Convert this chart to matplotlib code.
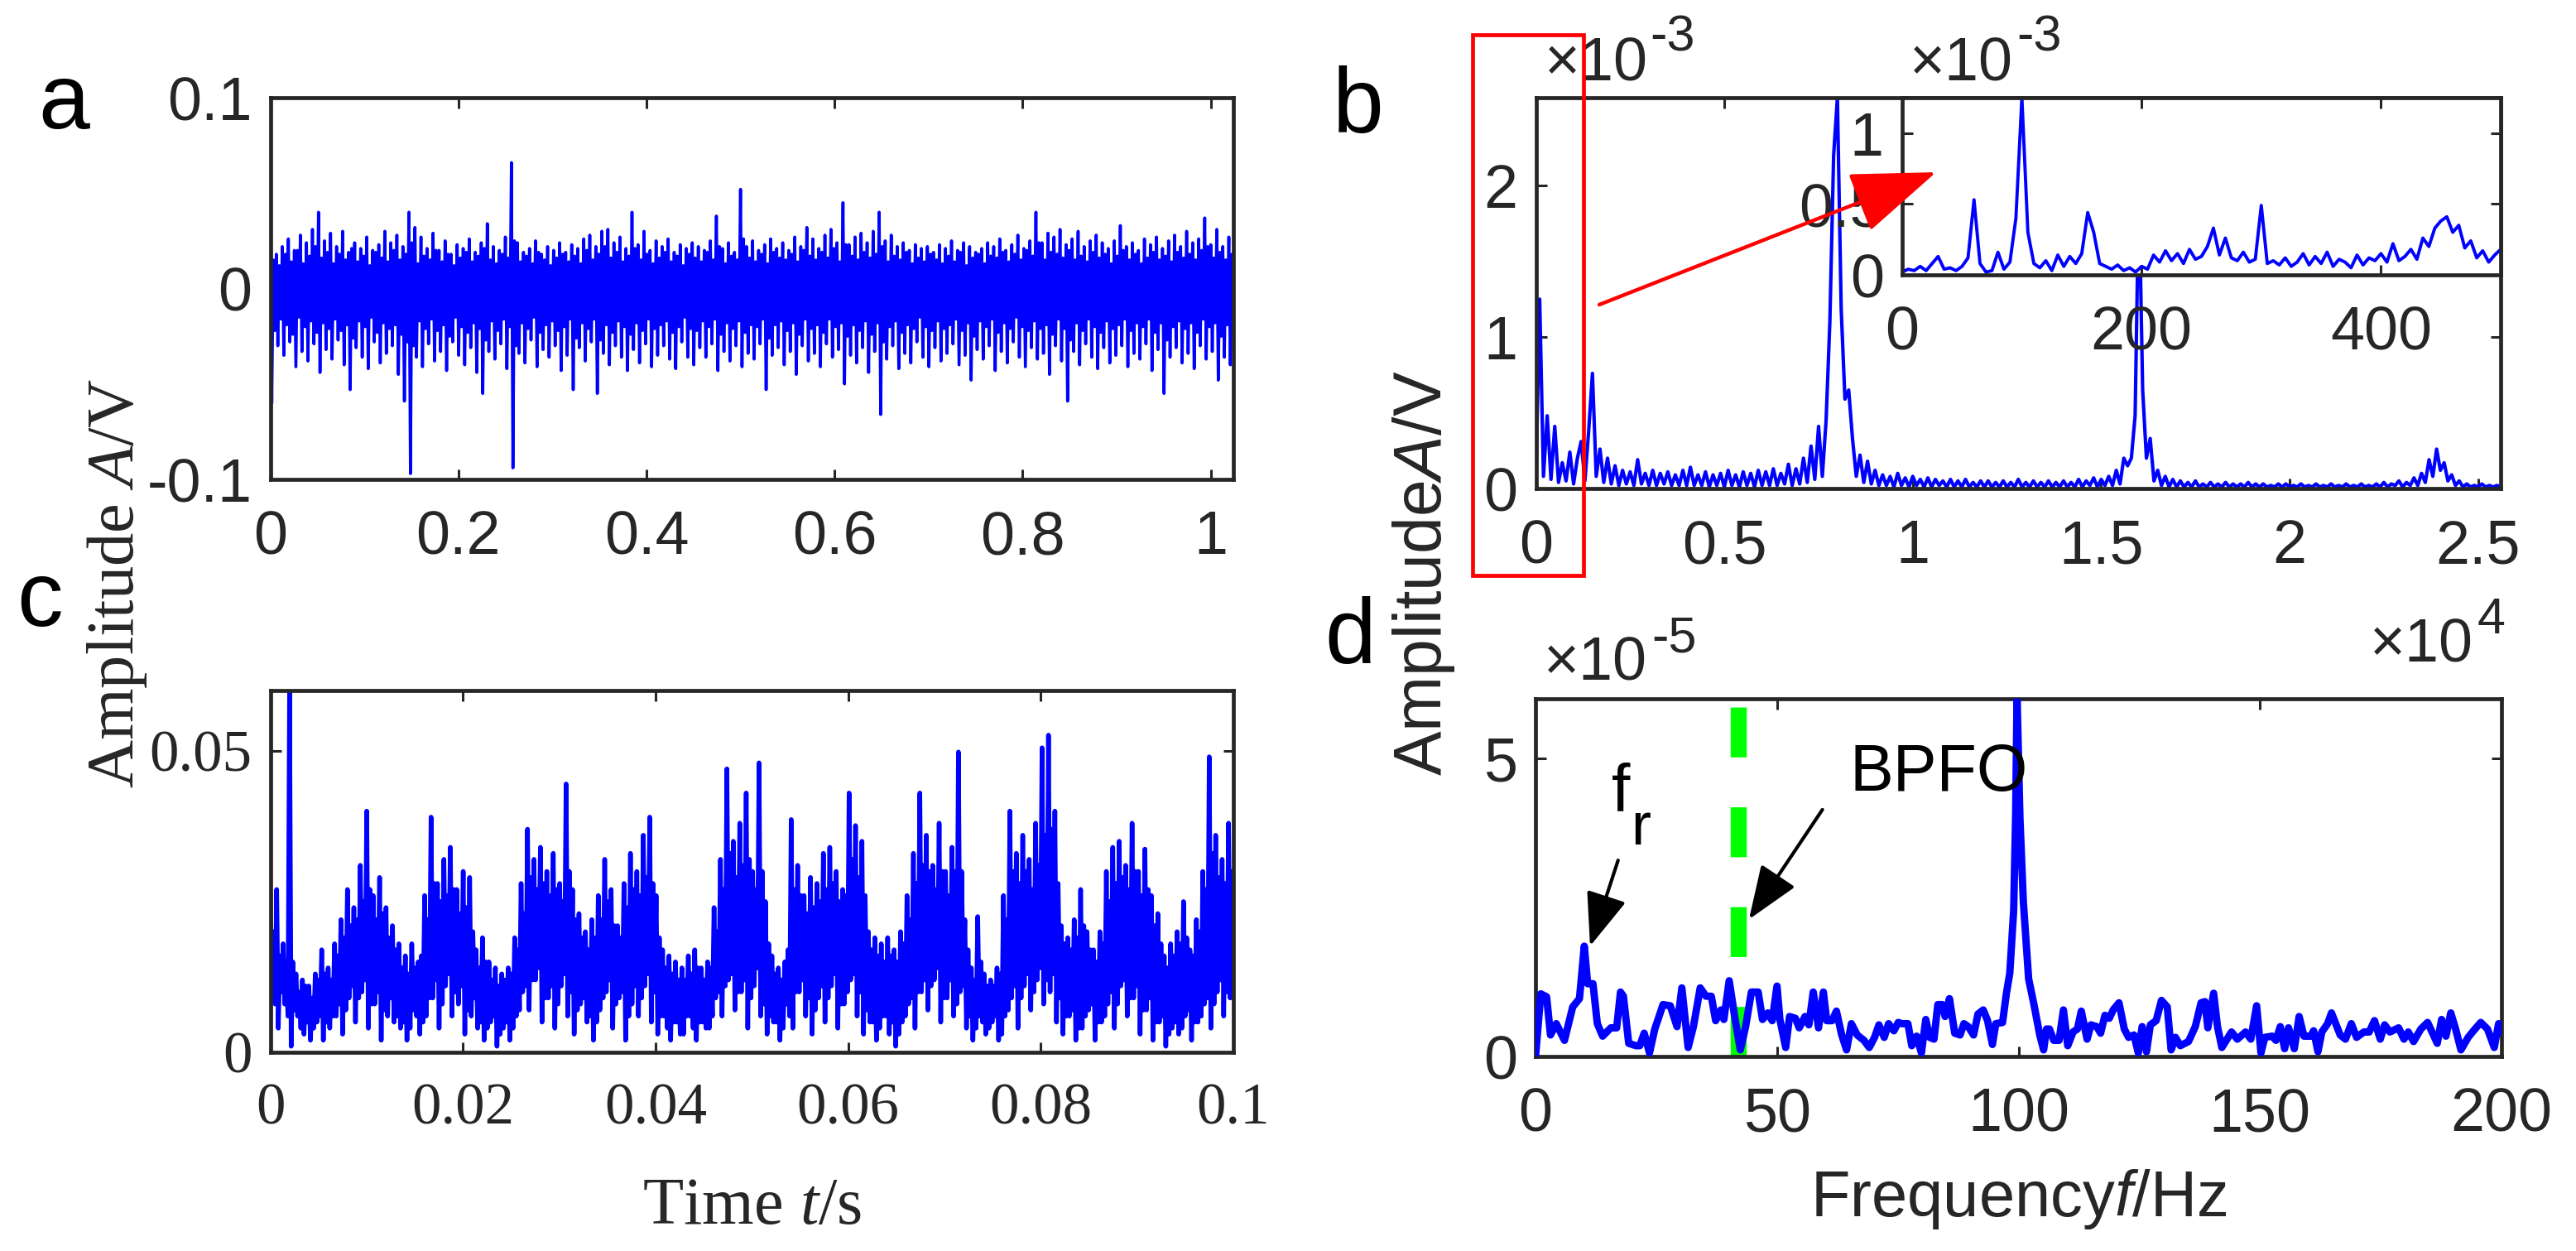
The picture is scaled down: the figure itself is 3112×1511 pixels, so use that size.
import matplotlib

matplotlib.use("Agg")
import matplotlib.pyplot as plt
import numpy as np
from matplotlib.patches import FancyArrowPatch, Rectangle

W, H, DPI = 3112, 1511, 200
INK, BLUE, GREEN, RED = "#262626", "#0000ff", "#00ff00", "#ff0000"
SANS, SERIF = "Liberation Sans", "Liberation Serif"

plt.rcParams.update({
    "font.family": [SANS, "DejaVu Sans"],
    "mathtext.fontset": "custom",
    "mathtext.rm": SERIF,
    "mathtext.it": SERIF + ":italic",
    "mathtext.sf": SANS,
    "mathtext.cal": SANS + ":italic",
    "axes.unicode_minus": False,
})

# ---- (a) raw vibration signal (V): main peaks / troughs and the smaller
# oscillations between them, read as up, dn, up2, dn2 per step
a_up = [
    0.044, 0.018, 0.022, 0.026, 0.020, 0.028, 0.024, 0.031, 0.040, 0.025,
    0.029, 0.022, 0.030, 0.019, 0.024, 0.021, 0.027, 0.020, 0.023, 0.030,
    0.024, 0.028, 0.022, 0.040, 0.032, 0.027, 0.021, 0.029, 0.020, 0.025,
    0.018, 0.023, 0.021, 0.026, 0.019, 0.024, 0.034, 0.022, 0.020, 0.027,
    0.066, 0.024, 0.019, 0.021, 0.025, 0.018, 0.022, 0.020, 0.024, 0.019,
    0.023, 0.021, 0.026, 0.028, 0.022, 0.030, 0.031, 0.024, 0.027, 0.021,
    0.040, 0.023, 0.030, 0.020, 0.025, 0.022, 0.026, 0.019, 0.023, 0.021,
    0.024, 0.022, 0.020, 0.025, 0.038, 0.021, 0.024, 0.019, 0.052, 0.022,
    0.025, 0.020, 0.023, 0.026, 0.021, 0.024, 0.020, 0.027, 0.022, 0.032,
    0.026, 0.021, 0.028, 0.031, 0.024, 0.045, 0.023, 0.027, 0.029, 0.024,
    0.030, 0.040, 0.025, 0.028, 0.022, 0.024, 0.020, 0.023, 0.021, 0.022,
    0.019, 0.023, 0.021, 0.025, 0.020, 0.024, 0.022, 0.019, 0.021, 0.024,
    0.022, 0.026, 0.020, 0.023, 0.028, 0.021, 0.025, 0.040, 0.024, 0.029,
    0.027, 0.031, 0.023, 0.026, 0.030, 0.022, 0.025, 0.028, 0.024, 0.021,
    0.025, 0.033, 0.022, 0.024, 0.020, 0.026, 0.023, 0.027, 0.021, 0.025,
    0.028, 0.022, 0.030, 0.024, 0.026, 0.037, 0.023, 0.031, 0.022, 0.027,
]
a_dn = [
    -0.060, -0.030, -0.035, -0.028, -0.041, -0.033, -0.038, -0.029, -0.044, -0.032,
    -0.037, -0.027, -0.040, -0.053, -0.031, -0.036, -0.042, -0.028, -0.039, -0.034,
    -0.030, -0.045, -0.059, -0.097, -0.036, -0.041, -0.029, -0.038, -0.033, -0.043,
    -0.028, -0.035, -0.040, -0.031, -0.044, -0.055, -0.033, -0.037, -0.029, -0.042,
    -0.094, -0.034, -0.039, -0.027, -0.041, -0.032, -0.036, -0.030, -0.043, -0.035,
    -0.053, -0.031, -0.038, -0.028, -0.055, -0.034, -0.040, -0.030, -0.036, -0.043,
    -0.032, -0.039, -0.029, -0.041, -0.035, -0.030, -0.037, -0.042, -0.028, -0.036,
    -0.040, -0.031, -0.036, -0.029, -0.043, -0.033, -0.038, -0.030, -0.041, -0.034,
    -0.037, -0.029, -0.053, -0.035, -0.031, -0.040, -0.033, -0.045, -0.030, -0.038,
    -0.034, -0.041, -0.029, -0.036, -0.032, -0.050, -0.035, -0.039, -0.031, -0.044,
    -0.033, -0.066, -0.037, -0.030, -0.042, -0.034, -0.039, -0.028, -0.036, -0.041,
    -0.031, -0.038, -0.034, -0.029, -0.040, -0.035, -0.048, -0.032, -0.037, -0.030,
    -0.043, -0.033, -0.039, -0.028, -0.036, -0.041, -0.031, -0.037, -0.034, -0.045,
    -0.030, -0.038, -0.059, -0.033, -0.040, -0.029, -0.036, -0.042, -0.031, -0.039,
    -0.035, -0.030, -0.041, -0.034, -0.037, -0.029, -0.043, -0.032, -0.055, -0.036,
    -0.031, -0.039, -0.034, -0.042, -0.030, -0.037, -0.033, -0.048, -0.036, -0.040,
]
a_up2 = [
    0.015, 0.012, 0.018, 0.014, 0.020, 0.013, 0.017, 0.022, 0.016, 0.019,
    0.013, 0.018, 0.015, 0.021, 0.014, 0.017, 0.012, 0.019, 0.016, 0.014,
    0.020, 0.015, 0.018, 0.024, 0.013, 0.017, 0.015, 0.020, 0.014, 0.018,
    0.012, 0.016, 0.019, 0.014, 0.017, 0.021, 0.015, 0.013, 0.018, 0.016,
    0.025, 0.014, 0.017, 0.013, 0.019, 0.015, 0.012, 0.016, 0.018, 0.014,
    0.017, 0.013, 0.020, 0.015, 0.018, 0.022, 0.016, 0.019, 0.014, 0.017,
    0.021, 0.015, 0.018, 0.013, 0.016, 0.019, 0.014, 0.017, 0.012, 0.018,
    0.016, 0.014, 0.019, 0.015, 0.022, 0.013, 0.017, 0.015, 0.026, 0.016,
    0.014, 0.018, 0.013, 0.019, 0.016, 0.015, 0.018, 0.014, 0.020, 0.017,
    0.015, 0.019, 0.016, 0.021, 0.014, 0.023, 0.017, 0.015, 0.019, 0.016,
    0.018, 0.022, 0.014, 0.017, 0.015, 0.019, 0.013, 0.016, 0.014, 0.018,
    0.015, 0.013, 0.017, 0.014, 0.019, 0.012, 0.016, 0.018, 0.013, 0.017,
    0.016, 0.019, 0.014, 0.018, 0.015, 0.020, 0.017, 0.024, 0.015, 0.019,
    0.018, 0.016, 0.020, 0.015, 0.017, 0.014, 0.019, 0.016, 0.018, 0.013,
    0.017, 0.020, 0.015, 0.018, 0.013, 0.016, 0.019, 0.015, 0.017, 0.014,
    0.019, 0.016, 0.018, 0.015, 0.020, 0.022, 0.016, 0.019, 0.015, 0.018,
]
a_dn2 = [
    -0.022, -0.016, -0.019, -0.024, -0.015, -0.020, -0.017, -0.023, -0.018, -0.021,
    -0.016, -0.022, -0.019, -0.026, -0.017, -0.020, -0.015, -0.023, -0.018, -0.021,
    -0.019, -0.024, -0.028, -0.030, -0.017, -0.021, -0.016, -0.022, -0.019, -0.025,
    -0.015, -0.020, -0.023, -0.018, -0.021, -0.027, -0.017, -0.022, -0.016, -0.020,
    -0.030, -0.018, -0.021, -0.015, -0.023, -0.019, -0.017, -0.022, -0.020, -0.016,
    -0.026, -0.018, -0.021, -0.016, -0.027, -0.019, -0.023, -0.017, -0.020, -0.024,
    -0.018, -0.022, -0.016, -0.021, -0.019, -0.017, -0.023, -0.020, -0.015, -0.021,
    -0.022, -0.017, -0.020, -0.016, -0.024, -0.018, -0.021, -0.017, -0.023, -0.019,
    -0.020, -0.016, -0.026, -0.019, -0.017, -0.022, -0.018, -0.024, -0.016, -0.021,
    -0.019, -0.023, -0.016, -0.020, -0.018, -0.025, -0.019, -0.022, -0.017, -0.024,
    -0.018, -0.028, -0.020, -0.017, -0.023, -0.019, -0.021, -0.015, -0.020, -0.022,
    -0.017, -0.021, -0.019, -0.016, -0.022, -0.018, -0.025, -0.017, -0.020, -0.016,
    -0.023, -0.018, -0.021, -0.015, -0.020, -0.022, -0.017, -0.021, -0.019, -0.024,
    -0.016, -0.021, -0.027, -0.018, -0.022, -0.016, -0.020, -0.023, -0.017, -0.021,
    -0.019, -0.016, -0.022, -0.018, -0.020, -0.016, -0.023, -0.018, -0.027, -0.020,
    -0.017, -0.021, -0.018, -0.023, -0.016, -0.020, -0.018, -0.025, -0.019, -0.021,
]
a_xticks = [0, 0.2, 0.4, 0.6, 0.8, 1.0]
a_xlabels = ["0", "0.2", "0.4", "0.6", "0.8", "1"]
a_yticks = [-0.1, 0, 0.1]
a_ylabels = ["-0.1", "0", "0.1"]

# ---- (b) amplitude spectrum, 100 Hz steps, in units of 1e-3 V
b_amp = [
    0.05, 1.25, 0.08, 0.48, 0.06, 0.41, 0.04, 0.17, 0.05, 0.24,
    0.03, 0.20, 0.31, 0.05, 0.38, 0.76, 0.08, 0.26, 0.04, 0.20,
    0.03, 0.15, 0.02, 0.12, 0.03, 0.11, 0.02, 0.19, 0.03, 0.10,
    0.02, 0.12, 0.02, 0.10, 0.03, 0.11, 0.02, 0.09, 0.02, 0.12,
    0.02, 0.14, 0.02, 0.09, 0.02, 0.11, 0.01, 0.09, 0.02, 0.10,
    0.01, 0.12, 0.02, 0.09, 0.01, 0.11, 0.02, 0.10, 0.01, 0.12,
    0.02, 0.11, 0.02, 0.13, 0.02, 0.10, 0.03, 0.16, 0.02, 0.13,
    0.03, 0.20, 0.04, 0.28, 0.06, 0.41, 0.08, 0.45, 1.10, 2.20,
    2.58, 1.19, 0.59, 0.65, 0.33, 0.08, 0.22, 0.04, 0.18, 0.03,
    0.12, 0.02, 0.09, 0.02, 0.08, 0.01, 0.10, 0.02, 0.07, 0.01,
    0.08, 0.02, 0.06, 0.01, 0.07, 0.01, 0.06, 0.02, 0.05, 0.01,
    0.06, 0.01, 0.05, 0.01, 0.06, 0.01, 0.04, 0.01, 0.05, 0.01,
    0.05, 0.01, 0.04, 0.01, 0.05, 0.01, 0.04, 0.01, 0.06, 0.01,
    0.04, 0.01, 0.05, 0.01, 0.04, 0.01, 0.05, 0.01, 0.04, 0.01,
    0.05, 0.01, 0.04, 0.01, 0.06, 0.01, 0.05, 0.02, 0.07, 0.01,
    0.06, 0.02, 0.08, 0.02, 0.12, 0.03, 0.20, 0.15, 0.20, 0.48,
    2.00, 0.65, 0.20, 0.33, 0.05, 0.12, 0.02, 0.08, 0.01, 0.06,
    0.01, 0.05, 0.01, 0.04, 0.01, 0.05, 0.01, 0.03, 0.01, 0.04,
    0.01, 0.03, 0.01, 0.04, 0.01, 0.03, 0.01, 0.03, 0.01, 0.04,
    0.01, 0.03, 0.01, 0.03, 0.01, 0.02, 0.01, 0.03, 0.01, 0.03,
    0.01, 0.02, 0.01, 0.03, 0.01, 0.02, 0.01, 0.03, 0.01, 0.02,
    0.01, 0.03, 0.01, 0.02, 0.01, 0.03, 0.01, 0.02, 0.01, 0.03,
    0.01, 0.02, 0.01, 0.03, 0.01, 0.04, 0.01, 0.03, 0.02, 0.05,
    0.01, 0.04, 0.02, 0.07, 0.02, 0.10, 0.04, 0.19, 0.08, 0.26,
    0.12, 0.17, 0.05, 0.09, 0.02, 0.05, 0.01, 0.03, 0.01, 0.02,
    0.01, 0.03, 0.01, 0.02, 0.01, 0.02, 0.01,
]
b_xticks = [0, 5000, 10000, 15000, 20000, 25000]
b_xlabels = ["0", "0.5", "1", "1.5", "2", "2.5"]
b_yticks = [0, 1, 2]
b_ylabels = ["0", "1", "2"]

# inset: 0-500 Hz, 5 Hz steps, units of 1e-3 V
in_amp = [
    0.02, 0.04, 0.03, 0.06, 0.03, 0.08, 0.13, 0.04, 0.05, 0.03,
    0.06, 0.12, 0.53, 0.08, 0.02, 0.03, 0.16, 0.04, 0.09, 0.40,
    1.25, 0.30, 0.08, 0.05, 0.10, 0.03, 0.14, 0.06, 0.13, 0.08,
    0.15, 0.44, 0.30, 0.08, 0.06, 0.04, 0.07, 0.03, 0.05, 0.02,
    0.06, 0.04, 0.14, 0.09, 0.17, 0.10, 0.15, 0.08, 0.18, 0.11,
    0.13, 0.20, 0.33, 0.14, 0.26, 0.12, 0.10, 0.16, 0.09, 0.11,
    0.49, 0.08, 0.10, 0.07, 0.12, 0.06, 0.09, 0.15, 0.07, 0.13,
    0.08, 0.16, 0.06, 0.11, 0.09, 0.05, 0.14, 0.07, 0.12, 0.10,
    0.15, 0.09, 0.22, 0.10, 0.13, 0.18, 0.11, 0.26, 0.20, 0.33,
    0.38, 0.41, 0.30, 0.35, 0.19, 0.24, 0.12, 0.17, 0.09, 0.14,
    0.18,
]
in_xticks = [0, 200, 400]
in_xlabels = ["0", "200", "400"]
in_yticks = [0, 0.5, 1]
in_ylabels = ["0", "0.5", "1"]

# ---- (c) envelope signal (V): up, dn, up2, dn2 per step
c_up = [
    0.026, 0.027, 0.018, 0.060, 0.013, 0.012, 0.011, 0.013, 0.017, 0.014,
    0.018, 0.022, 0.027, 0.024, 0.031, 0.040, 0.026, 0.029, 0.024, 0.021,
    0.018, 0.016, 0.018, 0.015, 0.026, 0.039, 0.028, 0.032, 0.034, 0.027,
    0.030, 0.029, 0.017, 0.019, 0.015, 0.014, 0.013, 0.014, 0.019, 0.028,
    0.037, 0.032, 0.034, 0.030, 0.033, 0.028, 0.0445, 0.027, 0.023, 0.020,
    0.022, 0.026, 0.032, 0.027, 0.021, 0.028, 0.033, 0.030, 0.036, 0.039,
    0.026, 0.017, 0.016, 0.015, 0.014, 0.016, 0.017, 0.014, 0.015, 0.024,
    0.032, 0.047, 0.035, 0.038, 0.043, 0.030, 0.048, 0.025, 0.016, 0.014,
    0.015, 0.0386, 0.031, 0.026, 0.029, 0.028, 0.033, 0.034, 0.030, 0.027,
    0.043, 0.0376, 0.035, 0.020, 0.019, 0.018, 0.019, 0.017, 0.020, 0.026,
    0.033, 0.043, 0.036, 0.031, 0.038, 0.030, 0.034, 0.0498, 0.022, 0.014,
    0.0225, 0.013, 0.012, 0.014, 0.026, 0.040, 0.033, 0.036, 0.032, 0.038,
    0.0505, 0.0526, 0.040, 0.021, 0.019, 0.022, 0.027, 0.020, 0.017, 0.020,
    0.030, 0.034, 0.035, 0.031, 0.038, 0.030, 0.0337, 0.026, 0.023, 0.016,
    0.018, 0.020, 0.025, 0.017, 0.022, 0.030, 0.049, 0.036, 0.032, 0.038,
]
c_dn = [
    0.012, 0.004, 0.008, 0.001, 0.006, 0.003, 0.002, 0.005, 0.002, 0.004,
    0.006, 0.003, 0.009, 0.005, 0.010, 0.004, 0.008, 0.002, 0.006, 0.005,
    0.004, 0.002, 0.007, 0.003, 0.006, 0.009, 0.004, 0.011, 0.006, 0.008,
    0.003, 0.006, 0.004, 0.002, 0.005, 0.001, 0.004, 0.002, 0.006, 0.010,
    0.007, 0.012, 0.005, 0.009, 0.004, 0.011, 0.006, 0.003, 0.008, 0.005,
    0.002, 0.007, 0.010, 0.004, 0.009, 0.002, 0.008, 0.006, 0.011, 0.005,
    0.003, 0.006, 0.002, 0.005, 0.003, 0.006, 0.002, 0.005, 0.004, 0.009,
    0.006, 0.012, 0.007, 0.010, 0.004, 0.011, 0.006, 0.003, 0.005, 0.002,
    0.008, 0.004, 0.010, 0.006, 0.003, 0.009, 0.005, 0.011, 0.004, 0.008,
    0.012, 0.006, 0.003, 0.005, 0.002, 0.006, 0.003, 0.001, 0.005, 0.008,
    0.004, 0.010, 0.007, 0.012, 0.005, 0.009, 0.006, 0.010, 0.004, 0.002,
    0.006, 0.003, 0.005, 0.002, 0.006, 0.009, 0.004, 0.011, 0.007, 0.012,
    0.008, 0.010, 0.005, 0.003, 0.006, 0.002, 0.004, 0.007, 0.002, 0.005,
    0.008, 0.004, 0.011, 0.006, 0.009, 0.003, 0.007, 0.002, 0.005, 0.001,
    0.004, 0.003, 0.006, 0.002, 0.005, 0.008, 0.004, 0.010, 0.006, 0.009,
]
c_up2 = [
    0.020, 0.016, 0.013, 0.015, 0.010, 0.011, 0.009, 0.012, 0.013, 0.012,
    0.016, 0.019, 0.021, 0.022, 0.025, 0.027, 0.022, 0.023, 0.019, 0.017,
    0.014, 0.013, 0.014, 0.016, 0.022, 0.028, 0.025, 0.026, 0.027, 0.023,
    0.024, 0.020, 0.014, 0.015, 0.012, 0.011, 0.012, 0.013, 0.017, 0.023,
    0.029, 0.027, 0.028, 0.026, 0.027, 0.025, 0.030, 0.022, 0.019, 0.017,
    0.019, 0.022, 0.025, 0.021, 0.019, 0.024, 0.027, 0.026, 0.029, 0.028,
    0.019, 0.014, 0.013, 0.012, 0.012, 0.013, 0.014, 0.012, 0.014, 0.020,
    0.027, 0.033, 0.029, 0.031, 0.032, 0.027, 0.030, 0.018, 0.013, 0.012,
    0.017, 0.027, 0.026, 0.023, 0.024, 0.025, 0.027, 0.028, 0.025, 0.026,
    0.032, 0.029, 0.026, 0.017, 0.016, 0.015, 0.016, 0.015, 0.018, 0.022,
    0.028, 0.031, 0.030, 0.027, 0.030, 0.026, 0.030, 0.030, 0.017, 0.012,
    0.015, 0.011, 0.011, 0.013, 0.022, 0.030, 0.028, 0.030, 0.027, 0.031,
    0.036, 0.037, 0.028, 0.018, 0.017, 0.019, 0.021, 0.017, 0.015, 0.018,
    0.025, 0.028, 0.029, 0.027, 0.030, 0.026, 0.027, 0.021, 0.018, 0.014,
    0.016, 0.018, 0.019, 0.016, 0.020, 0.027, 0.033, 0.029, 0.028, 0.030,
]
c_dn2 = [
    0.008, 0.010, 0.006, 0.007, 0.004, 0.005, 0.004, 0.006, 0.005, 0.006,
    0.008, 0.007, 0.011, 0.009, 0.012, 0.008, 0.010, 0.007, 0.009, 0.006,
    0.005, 0.004, 0.006, 0.005, 0.009, 0.012, 0.008, 0.013, 0.010, 0.011,
    0.007, 0.009, 0.005, 0.004, 0.006, 0.003, 0.005, 0.004, 0.007, 0.011,
    0.012, 0.014, 0.009, 0.011, 0.008, 0.013, 0.010, 0.007, 0.009, 0.006,
    0.005, 0.009, 0.012, 0.008, 0.010, 0.006, 0.011, 0.009, 0.013, 0.010,
    0.006, 0.004, 0.005, 0.003, 0.006, 0.004, 0.005, 0.004, 0.006, 0.010,
    0.011, 0.013, 0.010, 0.012, 0.009, 0.014, 0.008, 0.006, 0.005, 0.004,
    0.006, 0.010, 0.012, 0.009, 0.007, 0.011, 0.009, 0.013, 0.008, 0.010,
    0.013, 0.010, 0.007, 0.005, 0.004, 0.006, 0.005, 0.003, 0.006, 0.009,
    0.010, 0.012, 0.011, 0.014, 0.009, 0.012, 0.008, 0.011, 0.006, 0.004,
    0.005, 0.004, 0.006, 0.003, 0.007, 0.011, 0.009, 0.013, 0.010, 0.014,
    0.012, 0.013, 0.009, 0.006, 0.007, 0.004, 0.006, 0.008, 0.005, 0.006,
    0.010, 0.008, 0.012, 0.009, 0.011, 0.007, 0.009, 0.005, 0.006, 0.003,
    0.005, 0.004, 0.007, 0.005, 0.006, 0.009, 0.008, 0.012, 0.010, 0.011,
]
c_xticks = [0, 0.02, 0.04, 0.06, 0.08, 0.1]
c_xlabels = ["0", "0.02", "0.04", "0.06", "0.08", "0.1"]
c_yticks = [0, 0.05]
c_ylabels = ["0", "0.05"]

# ---- (d) envelope spectrum 0-200 Hz, units of 1e-5 V
d_freq = [
    0.0, 1.1, 2.3, 3.1, 4.3, 6.0, 7.7, 9.1, 10.1, 10.8,
    11.9, 12.8, 13.9, 15.6, 16.8, 17.6, 18.2, 19.3, 20.8, 21.6,
    22.5, 23.6, 24.7, 26.4, 27.9, 29.3, 30.3, 31.6, 32.7, 34.1,
    35.3, 36.4, 37.3, 38.4, 39.0, 40.1, 41.2, 42.4, 43.5, 44.7,
    46.1, 47.0, 48.1, 49.0, 50.0, 50.6, 51.8, 52.6, 53.8, 54.6,
    55.8, 56.6, 57.5, 58.6, 59.6, 60.3, 61.4, 62.3, 63.4, 64.4,
    65.4, 66.6, 68.0, 69.1, 70.2, 71.1, 72.2, 73.1, 74.2, 75.1,
    75.9, 77.1, 77.9, 78.9, 79.9, 80.8, 81.6, 82.5, 83.3, 84.2,
    84.8, 85.7, 86.8, 87.9, 88.7, 89.6, 90.7, 91.6, 92.7, 93.6,
    94.6, 95.3, 96.7, 97.5, 98.2, 99.0, 99.4, 99.7, 100.3, 101.0,
    102.1, 103.2, 104.4, 105.2, 105.8, 106.4, 107.3, 108.4, 109.3, 110.2,
    111.3, 112.2, 113.0, 114.2, 115.0, 116.2, 117.0, 117.9, 118.8, 119.6,
    120.8, 121.9, 122.8, 123.9, 124.8, 125.6, 126.5, 127.3, 128.5, 129.6,
    130.8, 131.6, 132.5, 133.5, 135.2, 136.6, 137.8, 138.6, 139.2, 140.4,
    141.2, 142.1, 144.1, 145.3, 147.0, 148.1, 149.3, 150.2, 151.0, 152.5,
    153.3, 154.2, 155.1, 155.9, 157.1, 158.1, 159.1, 160.5, 161.1, 162.0,
    162.8, 164.0, 164.8, 166.6, 167.7, 168.9, 170.0, 171.5, 172.6, 173.7,
    174.9, 175.8, 176.9, 178.7, 179.8, 180.7, 181.8, 183.3, 184.7, 186.7,
    187.6, 188.5, 189.5, 190.5, 191.6, 193.1, 194.2, 195.7, 197.1, 198.5,
    199.4, 200.0,
]
d_amp = [
    0.00, 1.05, 1.00, 0.36, 0.55, 0.27, 0.83, 0.97, 1.85, 1.22,
    1.22, 0.55, 0.34, 0.48, 0.48, 1.08, 1.01, 0.22, 0.18, 0.18,
    0.39, 0.06, 0.46, 0.87, 0.85, 0.50, 1.15, 0.15, 0.50, 1.15,
    1.01, 1.01, 0.60, 0.78, 0.62, 1.27, 0.69, 0.11, 0.50, 1.08,
    1.08, 0.62, 0.73, 0.60, 1.18, 0.62, 0.15, 0.67, 0.64, 0.48,
    0.67, 0.53, 1.08, 0.48, 1.08, 0.60, 0.60, 0.76, 0.36, 0.11,
    0.55, 0.36, 0.27, 0.15, 0.32, 0.53, 0.32, 0.55, 0.43, 0.57,
    0.55, 0.55, 0.18, 0.34, 0.06, 0.62, 0.32, 0.29, 0.87, 0.87,
    0.67, 0.97, 0.39, 0.36, 0.55, 0.50, 0.36, 0.71, 0.78, 0.60,
    0.20, 0.55, 0.57, 1.06, 1.40, 2.45, 4.00, 6.05, 4.00, 2.60,
    1.30, 0.87, 0.36, 0.11, 0.46, 0.46, 0.27, 0.27, 0.78, 0.18,
    0.41, 0.46, 0.76, 0.29, 0.53, 0.50, 0.39, 0.69, 0.64, 0.78,
    0.90, 0.46, 0.32, 0.36, 0.06, 0.50, 0.08, 0.53, 0.60, 0.94,
    0.83, 0.11, 0.32, 0.18, 0.25, 0.50, 0.90, 0.92, 0.48, 1.06,
    0.50, 0.15, 0.41, 0.29, 0.41, 0.29, 0.85, 0.06, 0.32, 0.34,
    0.27, 0.50, 0.13, 0.48, 0.13, 0.67, 0.34, 0.34, 0.43, 0.08,
    0.41, 0.55, 0.73, 0.36, 0.29, 0.55, 0.32, 0.41, 0.41, 0.60,
    0.29, 0.53, 0.41, 0.48, 0.29, 0.41, 0.25, 0.46, 0.57, 0.22,
    0.62, 0.34, 0.73, 0.46, 0.11, 0.32, 0.43, 0.57, 0.46, 0.15,
    0.55, 0.43,
]
BPFO_HZ = 42.0
d_xticks = [0, 50, 100, 150, 200]
d_xlabels = ["0", "50", "100", "150", "200"]
d_yticks = [0, 5]
d_ylabels = ["0", "5"]


def px_rect(left, top, right, bottom):
    """Axes rect in figure fractions from pixel edges (origin top-left)."""
    return [left / W, 1 - bottom / H, (right - left) / W, (bottom - top) / H]


def fxy(x, y):
    return x / W, 1 - y / H


def style(ax, family, xt, xl, yt, yl, size=26.5):
    ax.set_xticks(xt, xl, fontfamily=family)
    ax.set_yticks(yt, yl, fontfamily=family)
    ax.tick_params(which="both", direction="in", top=True, right=True,
                   length=4.5, width=1.1, colors=INK, labelsize=size)
    ax.tick_params(axis="x", pad=13)
    ax.tick_params(axis="y", pad=8)
    for sp in ax.spines.values():
        sp.set_linewidth(1.7)
        sp.set_color(INK)


def exponent(x, y, sup_x, sup_y, power):
    fig.text(*fxy(x, y), "×10", fontsize=26.5, color=INK, va="baseline")
    fig.text(*fxy(sup_x, sup_y), power, fontsize=22, color=INK, va="baseline")


fig = plt.figure(figsize=(W / DPI, H / DPI), dpi=DPI, facecolor="white")

# ---- a
ax_a = fig.add_axes(px_rect(326.5, 118, 1490, 579))
a_trace = np.column_stack([a_up, a_dn, a_up2, a_dn2]).ravel()
a_t = np.linspace(0, 1.024, a_trace.size)
ax_a.plot(a_t, a_trace, color=BLUE, lw=1.3)
ax_a.set_xlim(0, 1.024)
ax_a.set_ylim(-0.1, 0.1)
style(ax_a, SANS, a_xticks, a_xlabels, a_yticks, a_ylabels)
ax_a.set_ylabel("Amplitude $A$/V", fontfamily=SERIF, fontsize=29, color=INK)
ax_a.yaxis.set_label_coords((142 - 326.5) / 1163.5, (579 - 704) / 461)
ax_a.yaxis.label.set_va("center")

# ---- c
ax_c = fig.add_axes(px_rect(326.5, 834, 1490, 1271))
c_trace = np.column_stack([c_up, c_dn, c_up2, c_dn2]).ravel()
c_t = np.linspace(0, 0.1, c_trace.size)
ax_c.plot(c_t, c_trace, color=BLUE, lw=2.0)
ax_c.set_xlim(0, 0.1)
ax_c.set_ylim(0, 0.06)
style(ax_c, SERIF, c_xticks, c_xlabels, c_yticks, c_ylabels, size=25.5)
ax_c.set_xlabel("Time $t$/s", fontfamily=SERIF, fontsize=29, color=INK)
ax_c.xaxis.set_label_coords(0.5, -(1478 - 1271) / 437)
ax_c.xaxis.label.set_va("baseline")

# ---- b
ax_b = fig.add_axes(px_rect(1855.5, 118, 3021, 590))
b_f = np.linspace(0, 25600, len(b_amp))
ax_b.plot(b_f, b_amp, color=BLUE, lw=1.5)
ax_b.set_xlim(0, 25600)
ax_b.set_ylim(0, 2.58)
style(ax_b, SANS, b_xticks, b_xlabels, b_yticks, b_ylabels)
ax_b.set_ylabel("Amplitude$\\mathcal{A}$/V", fontsize=29, color=INK)
ax_b.yaxis.set_label_coords((1720 - 1855.5) / 1165.5, (590 - 692) / 472)
ax_b.yaxis.label.set_va("center")

ax_in = fig.add_axes(px_rect(2298, 118, 3021, 332), facecolor="white")
in_f = np.linspace(0, 500, len(in_amp))
ax_in.plot(in_f, in_amp, color=BLUE, lw=1.4)
ax_in.set_xlim(0, 500)
ax_in.set_ylim(0, 1.25)
style(ax_in, SANS, in_xticks, in_xlabels, in_yticks, in_ylabels)

# ---- d
ax_d = fig.add_axes(px_rect(1855, 844, 3022, 1276))
ax_d.axvline(BPFO_HZ, color=GREEN, lw=7, dashes=(3.1, 3.1),
             dash_capstyle="butt", zorder=1)
ax_d.plot(d_freq, d_amp, color=BLUE, lw=3.2, zorder=3)
ax_d.set_xlim(0, 200)
ax_d.set_ylim(0, 6)
style(ax_d, SANS, d_xticks, d_xlabels, d_yticks, d_ylabels)
ax_d.set_xlabel("Frequency$\\mathcal{f}$/Hz", fontsize=28, color=INK)
ax_d.xaxis.set_label_coords(0.5, -(1469 - 1276) / 432)
ax_d.xaxis.label.set_va("baseline")

ax_d.text(15.7, 4.12, "f", fontsize=29, va="baseline")
ax_d.text(19.8, 3.55, "r", fontsize=26, va="baseline")
ax_d.text(65.0, 4.46, "BPFO", fontsize=28.5, va="baseline")
arrow = dict(arrowstyle="-|>,head_length=20,head_width=7.7", mutation_scale=1,
             lw=1.5, color="black", shrinkA=0, shrinkB=0)
ax_d.annotate("", xy=(11.3, 1.85), xytext=(17.1, 3.29), arrowprops=arrow)
ax_d.annotate("", xy=(44.2, 2.30), xytext=(59.4, 4.14), arrowprops=arrow)

# ---- exponents, panel letters, zoom marker
exponent(1866, 97, 1993, 62, "-3")
exponent(2307, 97, 2436, 62, "-3")
exponent(2863, 800, 2993, 765, "4")
exponent(1865, 822, 1995, 787, "-5")

for letter, x, y in [("a", 46, 155), ("b", 1610, 160), ("c", 20, 756), ("d", 1600, 801)]:
    fig.text(*fxy(x, y), letter, fontsize=40, color="black", va="baseline")

fig.add_artist(Rectangle(fxy(1779, 695), (1913 - 1779) / W, (695 - 42) / H,
                         transform=fig.transFigure, fill=False, ec=RED, lw=1.7,
                         zorder=10))
fig.add_artist(FancyArrowPatch(fxy(1932, 368), fxy(2339, 208),
                               transform=fig.transFigure,
                               arrowstyle="-|>,head_length=32.6,head_width=11.9",
                               mutation_scale=1, lw=1.6, color=RED,
                               shrinkA=0, shrinkB=0, zorder=10))

fig.savefig("out.png", dpi=DPI)
